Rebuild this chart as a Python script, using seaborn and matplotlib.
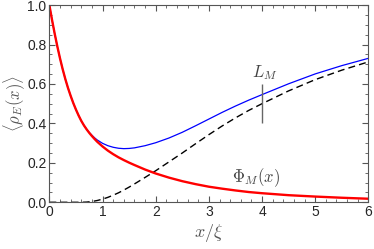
import numpy as np
import pandas as pd
import matplotlib
matplotlib.use("Agg")
import matplotlib.pyplot as plt
import seaborn as sns
from matplotlib.ticker import MultipleLocator

# values
x_vals = [0, 0.05, 0.1, 0.15, 0.2, 0.25, 0.3, 0.35, 0.4, 0.45, 0.5, 0.55, 0.6, 0.65,
          0.7, 0.75, 0.8, 0.85, 0.9, 1.0, 1.1, 1.2, 1.3, 1.4, 1.5, 1.6, 1.8, 2.0,
          2.25, 2.5, 2.75, 3.0, 3.25, 3.5, 3.75, 4.0, 4.5, 5.0, 5.5, 6.0]
phi_m = [1.0, 0.925, 0.855, 0.79, 0.73, 0.675, 0.625, 0.58, 0.54, 0.503, 0.47, 0.44,
         0.413, 0.39, 0.37, 0.352, 0.336, 0.321, 0.307, 0.283, 0.262, 0.244, 0.228,
         0.214, 0.201, 0.189, 0.166, 0.146, 0.125, 0.107, 0.092, 0.079, 0.069, 0.06,
         0.052, 0.046, 0.036, 0.029, 0.023, 0.018]
rho_total = [1.0, 0.925, 0.855, 0.79, 0.73, 0.675, 0.625, 0.58, 0.54, 0.503, 0.47, 0.44,
             0.413, 0.39, 0.371, 0.354, 0.340, 0.327, 0.316, 0.299, 0.287, 0.279, 0.274,
             0.272, 0.273, 0.276, 0.287, 0.302, 0.326, 0.355, 0.388, 0.422, 0.456,
             0.488, 0.518, 0.546, 0.601, 0.651, 0.693, 0.73]

x_dash = [0, 0.6, 0.7, 0.8, 0.9, 1.0, 1.1, 1.2, 1.3, 1.4, 1.5, 1.6, 1.8, 2.0, 2.25,
          2.5, 2.75, 3.0, 3.25, 3.5, 3.75, 4.0, 4.5, 5.0, 5.5, 6.0]
rho_bulk = [0, 0, 0.001, 0.004, 0.009, 0.016, 0.025, 0.036, 0.048, 0.062, 0.077, 0.093,
            0.126, 0.16, 0.205, 0.25, 0.297, 0.343, 0.387, 0.428, 0.466, 0.50, 0.565,
            0.622, 0.67, 0.712]

l_m = 4.0
l_m_span = [0.40, 0.60]

sns.set_theme(style="ticks")
plt.rcParams['font.family'] = ['Liberation Sans', 'DejaVu Sans']
plt.rcParams['mathtext.fontset'] = 'cm'

df_main = pd.DataFrame({'x': x_vals, 'phi': phi_m, 'rho': rho_total})
df_dash = pd.DataFrame({'x': x_dash, 'rho': rho_bulk})

fig = plt.figure(figsize=(3.74, 2.49), dpi=100)
ax = fig.add_axes([0.132, 0.1876, 0.853, 0.792])

sns.lineplot(data=df_dash, x='x', y='rho', ax=ax, color='black', lw=1.0,
             linestyle=(0, (5, 3)))
sns.lineplot(data=df_main, x='x', y='rho', ax=ax, color='#0000ff', lw=0.9)
sns.lineplot(data=df_main, x='x', y='phi', ax=ax, color='#ff0000', lw=1.7)

ax.vlines(l_m, l_m_span[0], l_m_span[1], color='#666666', lw=1.0)
ax.text(l_m + 0.05, 0.66, r'$L_M$', color='#444444', fontsize=12,
        ha='center', va='center')
ax.text(3.88, 0.127, r'$\Phi_M(x)$', color='#444444', fontsize=12,
        ha='center', va='center')

ax.set_xlim(0, 6)
ax.set_ylim(0, 1)
ax.xaxis.set_major_locator(MultipleLocator(1))
ax.xaxis.set_minor_locator(MultipleLocator(0.2))
ax.yaxis.set_major_locator(MultipleLocator(0.2))
ax.yaxis.set_minor_locator(MultipleLocator(0.05))
ax.yaxis.set_major_formatter(plt.FormatStrFormatter('%.1f'))
ax.tick_params(which='both', direction='in', top=True, right=True,
               color='#555555', labelsize=10, pad=2)
ax.tick_params(which='major', length=4, width=0.8)
ax.tick_params(which='minor', length=2, width=0.6)
for s in ax.spines.values():
    s.set_color('#555555')
    s.set_linewidth(0.8)

ax.set_xlabel(r'$x/\xi$', color='#555555', fontsize=13, labelpad=2)
ax.set_ylabel(r'$\langle\rho_E(x)\rangle$', color='#555555', fontsize=12, labelpad=0)

fig.savefig('out.png', dpi=100)
